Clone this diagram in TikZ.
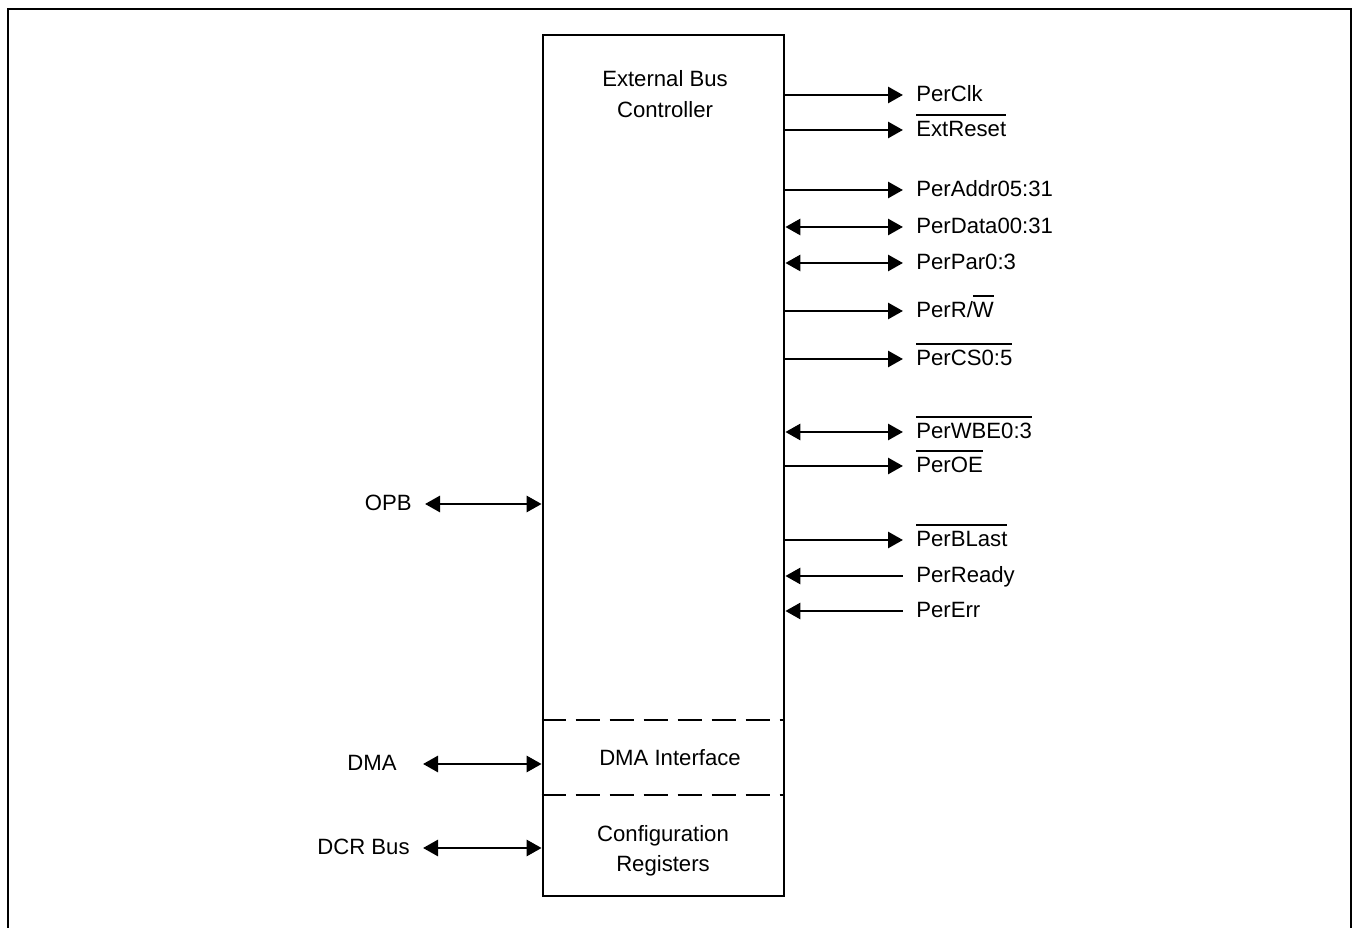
\documentclass[tikz,border=0pt]{standalone}
\usepackage{fontspec}
\setmainfont{Liberation Sans}
\usetikzlibrary{arrows.meta}
% active-low signal names
\newcommand{\lowsig}[1]{\vbox{\hrule height 1pt\kern 3pt\hbox{#1}}}

\begin{document}
\begin{tikzpicture}[
        x=0.02cm, y=-0.02cm,
        font=\fontsize{12.6}{17.2}\selectfont,
        sig/.style={inner xsep=0.26cm, inner ysep=0pt, text height=1.7ex, text depth=0.3ex},
        tip/.tip={Triangle[length=0.3cm,width=0.32cm]},
        sigout/.style={line width=1.6pt,-tip},
        sigin/.style={line width=1.6pt,tip-},
        sigbi/.style={line width=1.6pt,tip-tip}
    ]
    \useasboundingbox (0,0) rectangle (1353,928);
    \draw [line width=1.1pt] (8,930) -- (8,9) -- (1351,9) -- (1351,930);

    % controller block
    \node [draw, line width=1.6pt, minimum width=4.82cm, minimum height=17.22cm] (ebc) at (663.5,465.5) {};
    \draw [line width=1.6pt, dash pattern=on 0.48cm off 0.2cm] (ebc.west |- 0,720) -- (ebc.east |- 0,720);
    \draw [line width=1.6pt, dash pattern=on 0.48cm off 0.2cm] (ebc.west |- 0,795) -- (ebc.east |- 0,795);

    \node [align=center] (ebctitle) at (665,94) {External Bus\\Controller};
    \node (dmaif) at (670,758) {DMA Interface};
    \node [align=center] (cfgreg) at (663,851) {Configuration\\Registers};

    % peripheral side
    \foreach \y/\name/\txt/\dir in {
            95/clk/PerClk/sigout,
            130/rst/\lowsig{ExtReset}/sigout,
            190/addr/PerAddr05:31/sigout,
            227/data/PerData00:31/sigbi,
            263/par/PerPar0:3/sigbi,
            311/rw/{PerR/\lowsig{W}}/sigout,
            359/cs/\lowsig{PerCS0:5}/sigout,
            432/wbe/\lowsig{PerWBE0:3}/sigbi,
            466/oe/\lowsig{PerOE}/sigout,
            540/blast/\lowsig{PerBLast}/sigout,
            576/ready/PerReady/sigin,
            611/err/PerErr/sigin} {
        \node [sig, anchor=west] (p-\name) at (903,\y) {\txt};
        \draw [\dir] (ebc.east |- 0,\y) -- (p-\name.west);
    }

    % system side
    \node [sig, anchor=east] (opb) at (425,504) {OPB};
    \node [sig, anchor=east, inner xsep=0.52cm] (dma) at (423,764) {DMA};
    \node [sig, anchor=east] (dcr) at (423,848) {DCR Bus};
    \draw [sigbi] (opb.east) -- (ebc.west |- 0,504);
    \draw [sigbi] (dma.east) -- (ebc.west |- 0,764);
    \draw [sigbi] (dcr.east) -- (ebc.west |- 0,848);
\end{tikzpicture}
\end{document}
